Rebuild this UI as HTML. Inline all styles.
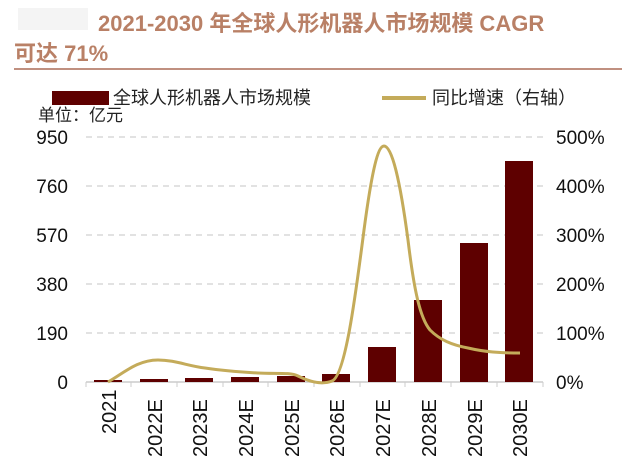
<!DOCTYPE html>
<html><head><meta charset="utf-8"><style>
body{margin:0;background:#fff;}
svg{display:block;font-family:"Liberation Sans","Noto Sans CJK SC",sans-serif;}
</style></head><body>
<svg width="640" height="461" viewBox="0 0 640 461">
<rect x="18" y="8" width="70" height="22" fill="#f4f4f4"/>
<text x="98" y="31" font-size="22" font-weight="bold" fill="#b98066">2021-2030 年全球人形机器人市场规模 CAGR</text>
<text x="14" y="61" font-size="22" font-weight="bold" fill="#b98066">可达 71%</text>
<rect x="14" y="68" width="608" height="2" fill="#c09080"/>
<rect x="52" y="91" width="57" height="14" fill="#5e0000"/>
<text x="113" y="104" font-size="18" fill="#222">全球人形机器人市场规模</text>
<rect x="382" y="96" width="44" height="4" fill="#c4ab5a"/>
<text x="432" y="104" font-size="18" fill="#222">同比增速（右轴）</text>
<text x="38" y="121" font-size="17" fill="#222">单位：亿元</text>
<g stroke="#d0d0d0" stroke-width="1.2" stroke-dasharray="6,5">
<line x1="86" y1="137" x2="543" y2="137"/><line x1="86" y1="186" x2="543" y2="186"/>
<line x1="86" y1="235" x2="543" y2="235"/><line x1="86" y1="284" x2="543" y2="284"/>
<line x1="86" y1="333" x2="543" y2="333"/>
</g>
<line x1="86" y1="382" x2="543" y2="382" stroke="#ccc" stroke-width="1.5"/>
<g stroke="#ccc" stroke-width="1">
<line x1="86" y1="382" x2="86" y2="387"/><line x1="131" y1="382" x2="131" y2="387"/><line x1="177" y1="382" x2="177" y2="387"/><line x1="223" y1="382" x2="223" y2="387"/><line x1="268" y1="382" x2="268" y2="387"/><line x1="314" y1="382" x2="314" y2="387"/><line x1="360" y1="382" x2="360" y2="387"/><line x1="405" y1="382" x2="405" y2="387"/><line x1="451" y1="382" x2="451" y2="387"/><line x1="497" y1="382" x2="497" y2="387"/><line x1="543" y1="382" x2="543" y2="387"/>
</g>
<g font-size="19" fill="#111" text-anchor="end">
<text x="68" y="144">950</text><text x="68" y="193">760</text><text x="68" y="242">570</text>
<text x="68" y="291">380</text><text x="68" y="340">190</text><text x="68" y="389">0</text>
</g>
<g font-size="19" fill="#111">
<text x="556" y="144">500%</text><text x="556" y="193">400%</text><text x="556" y="242">300%</text>
<text x="556" y="291">200%</text><text x="556" y="340">100%</text><text x="556" y="389">0%</text>
</g>
<g fill="#5e0000">
<rect x="94" y="380" width="28" height="2"/>
<rect x="140" y="379" width="28" height="3"/>
<rect x="185" y="378" width="28" height="4"/>
<rect x="231" y="377" width="28" height="5"/>
<rect x="277" y="376" width="28" height="6"/>
<rect x="322" y="374" width="28" height="8"/>
<rect x="368" y="347" width="28" height="35"/>
<rect x="414" y="300" width="28" height="82"/>
<rect x="460" y="243" width="28" height="139"/>
<rect x="505" y="161" width="28" height="221"/>
</g>
<path d="M108,382 C125,372 138,360 158,360 C175,360 188,366 205,368 C225,371 240,372 258,373 C275,374 290,372 298,376 C310,382 322,385 332,381 C345,376 355,300 364,230 C372,170 378,146 384,146 C392,146 400,180 408,240 C414,290 420,318 430,330 C440,340 452,345 468,348 C485,352 500,353 520,353" fill="none" stroke="#c4ab5a" stroke-width="3"/>
<g font-size="20" fill="#111">
<text transform="translate(116,434) rotate(-90)">2021</text>
<text transform="translate(162,457) rotate(-90)">2022E</text>
<text transform="translate(207,457) rotate(-90)">2023E</text>
<text transform="translate(253,457) rotate(-90)">2024E</text>
<text transform="translate(299,457) rotate(-90)">2025E</text>
<text transform="translate(344,457) rotate(-90)">2026E</text>
<text transform="translate(390,457) rotate(-90)">2027E</text>
<text transform="translate(436,457) rotate(-90)">2028E</text>
<text transform="translate(482,457) rotate(-90)">2029E</text>
<text transform="translate(527,457) rotate(-90)">2030E</text>
</g>
</svg>
</body></html>
